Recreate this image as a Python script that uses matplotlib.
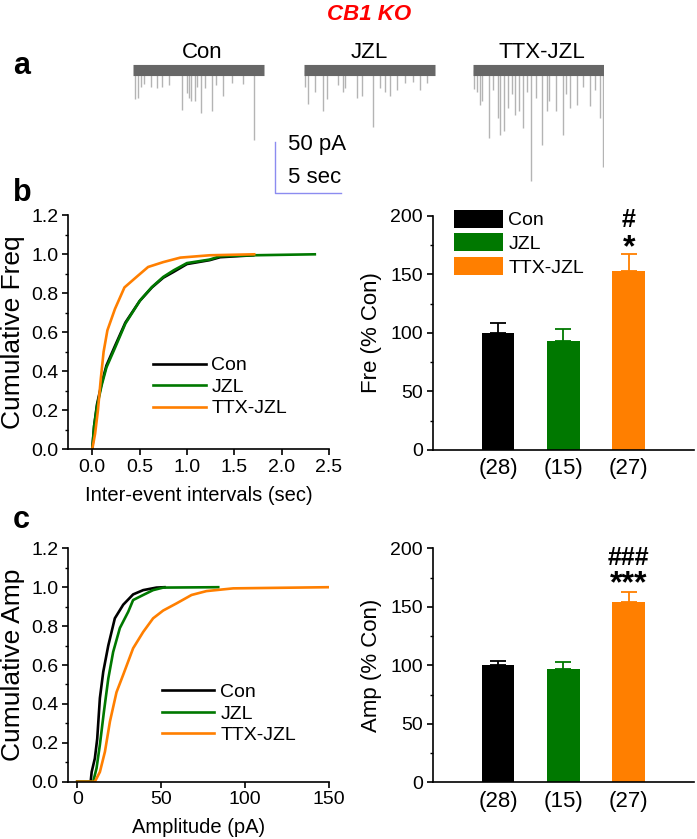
import matplotlib
matplotlib.use("Agg")
import matplotlib.pyplot as plt
from matplotlib.ticker import MultipleLocator

plt.rcParams['font.family'] = ['Liberation Sans', 'DejaVu Sans']

# ---------------- data ----------------
groups = ["Con", "JZL", "TTX-JZL"]
colors = ["#000000", "#007800", "#ff7f00"]
n_cells = ["(28)", "(15)", "(27)"]

# example traces: event times (s) and amplitudes (pA)
con_ev_t = [0.13, 0.41, 0.59, 0.84, 1.35, 1.81, 2.19, 2.75, 3.72, 4.10, 4.27, 4.45, 4.71, 4.90, 5.17, 5.50, 6.05, 6.30, 6.87, 7.50, 8.40, 9.24]
con_ev_a = [28, 27, 17, 14, 17, 18, 17, 15, 39, 23, 27, 30, 30, 17, 42, 18, 40, 15, 25, 13, 14, 69]
jzl_ev_t = [0.08, 0.33, 0.84, 1.47, 1.73, 2.61, 2.95, 3.12, 4.01, 4.39, 5.23, 5.78, 6.16, 6.54, 7.10, 7.69, 8.32, 8.83, 9.34]
jzl_ev_a = [17, 33, 22, 40, 28, 15, 22, 18, 27, 25, 56, 18, 22, 25, 20, 13, 12, 20, 13]
ttx_ev_t = [0.08, 0.30, 0.54, 0.72, 1.18, 1.50, 1.87, 2.08, 2.38, 2.64, 2.98, 3.18, 3.48, 3.82, 4.10, 4.44, 4.77, 5.28, 5.62, 5.79, 6.31, 6.82, 7.08, 7.41, 7.92, 8.36, 8.87, 9.30, 9.64, 9.90]
ttx_ev_a = [19, 22, 34, 30, 67, 20, 47, 64, 60, 37, 24, 44, 40, 57, 22, 109, 27, 74, 40, 30, 40, 64, 24, 37, 34, 17, 35, 20, 47, 95]
trace_len = 10.0

# cumulative inter-event interval distributions
iei_con_x = [0, 0.02, 0.05, 0.10, 0.15, 0.24, 0.35, 0.50, 0.63, 0.75, 0.86, 1.00, 1.24, 1.35, 1.70]
iei_con_y = [0, 0.12, 0.23, 0.34, 0.43, 0.53, 0.65, 0.76, 0.83, 0.88, 0.91, 0.95, 0.970, 0.985, 0.995]
iei_jzl_x = [0, 0.02, 0.05, 0.10, 0.15, 0.24, 0.35, 0.506, 0.63, 0.75, 0.86, 1.00, 1.24, 1.35, 1.70, 2.35]
iei_jzl_y = [0, 0.12, 0.22, 0.33, 0.42, 0.52, 0.645, 0.764, 0.832, 0.884, 0.918, 0.955, 0.973, 0.99, 0.995, 1.0]
iei_ttx_x = [0, 0.03, 0.06, 0.09, 0.12, 0.16, 0.24, 0.34, 0.47, 0.59, 0.75, 0.93, 1.24, 1.71]
iei_ttx_y = [0, 0.08, 0.20, 0.36, 0.50, 0.61, 0.72, 0.83, 0.885, 0.935, 0.96, 0.983, 0.995, 1.0]

# cumulative amplitude distributions
amp_con_x = [0, 8.0, 8.6, 10.5, 11.9, 13.5, 15.5, 18.5, 22.4, 27.4, 33.3, 39.3, 47.2, 52]
amp_con_y = [0, 0, 0.05, 0.12, 0.22, 0.43, 0.565, 0.70, 0.84, 0.91, 0.963, 0.985, 0.998, 1.0]
amp_jzl_x = [0, 9.5, 11.5, 13.5, 15.9, 18.5, 21.4, 25.4, 30.4, 33.3, 39.3, 45.2, 51.2, 84]
amp_jzl_y = [0, 0, 0.069, 0.19, 0.36, 0.53, 0.667, 0.79, 0.874, 0.934, 0.96, 0.985, 0.998, 1.0]
amp_ttx_x = [0, 10.5, 13.5, 16.5, 19.5, 23.4, 27.4, 33.3, 39.3, 45.2, 51.2, 59.2, 68.1, 77, 92.9, 150]
amp_ttx_y = [0, 0, 0.05, 0.154, 0.31, 0.46, 0.55, 0.686, 0.77, 0.84, 0.88, 0.917, 0.96, 0.98, 0.994, 1.0]

# normalized bar data (% Con)
fre_mean = [100, 93.4, 153.2]
fre_sem = [8.3, 9.8, 14.1]
amp_mean = [100, 96.8, 153.8]
amp_sem = [3.7, 6.3, 9.1]

# ---------------- figure ----------------
W, H = 697, 839
fig = plt.figure(figsize=(W / 100, H / 100), dpi=100)


def fx(px):
    return px / W


def fy(py):
    return 1 - py / H


def axes_px(x0, y0, x1, y1):
    return fig.add_axes([fx(x0), fy(y1), fx(x1) - fx(x0), (y1 - y0) / H])


TICK = 14
LW_SPINE = 1.2


def style(ax, minor_y=None):
    for s in ['top', 'right']:
        ax.spines[s].set_visible(False)
    for s in ['left', 'bottom']:
        ax.spines[s].set_linewidth(LW_SPINE)
    ax.tick_params(axis='both', which='major', direction='out', length=4.5,
                   width=LW_SPINE, labelsize=TICK, pad=2.5)
    ax.tick_params(axis='y', which='minor', direction='out', length=2.5, width=1.0)
    if minor_y is not None:
        ax.yaxis.set_minor_locator(MultipleLocator(minor_y))


# ----- panel a: traces -----
px_per_s = 13.14
px_per_pA = 1.02
ax_a = axes_px(133, 30, 604, 200)
ax_a.set_xlim(0, 471 / px_per_s)
ax_a.set_ylim(-130 / px_per_pA, 40 / px_per_pA)
ax_a.axis('off')
trace_starts = [0.0, (304 - 133) / px_per_s, (473 - 133) / px_per_s]
ev_t = [con_ev_t, jzl_ev_t, ttx_ev_t]
ev_a = [con_ev_a, jzl_ev_a, ttx_ev_a]
for start, ts, amps in zip(trace_starts, ev_t, ev_a):
    ax_a.vlines([start + t for t in ts], 0, [-a for a in amps],
                color='#b4b4b4', lw=1.0, zorder=1)
    ax_a.plot([start, start + trace_len], [0, 0], color='#676767',
              lw=8.0, solid_capstyle='butt', zorder=2)
# scale bar
sb_t0 = (275 - 133) / px_per_s
sb_y0 = -(193 - 70) / px_per_pA
ax_a.plot([sb_t0, sb_t0, sb_t0 + 5], [sb_y0 + 50, sb_y0, sb_y0],
          color='#8c8cf0', lw=1.0, clip_on=False)

fig.text(fx(369), fy(20), "CB1 KO", color='#ff0000', fontsize=16,
         fontweight='bold', fontstyle='italic', ha='center', va='baseline')
for lab, cx in zip(groups, [202, 369, 542]):
    fig.text(fx(cx), fy(58), lab, fontsize=16, ha='center', va='baseline')
fig.text(fx(288), fy(150), "50 pA", fontsize=16, ha='left', va='baseline')
fig.text(fx(288), fy(183), "5 sec", fontsize=16, ha='left', va='baseline')

for lab, (x, y) in zip(["a", "b", "c"], [(13, 74), (13, 201), (13, 528)]):
    fig.text(fx(x), fy(y), lab, fontsize=22, fontweight='bold', ha='left', va='baseline')


# ----- cumulative plots -----
def cum_plot(ax, series, xlim, xticks, xlabel, ylabel, leg_anchor):
    for (xs, ys), c, lab in zip(series, colors, groups):
        ax.plot(xs, ys, color=c, lw=1.9, label=lab, solid_joinstyle='round')
    ax.set_xlim(*xlim)
    ax.set_ylim(0, 1.2)
    ax.set_xticks(xticks)
    ax.set_yticks([0, 0.2, 0.4, 0.6, 0.8, 1.0, 1.2])
    ax.yaxis.set_major_formatter(plt.FuncFormatter(lambda v, p: f"{v:.1f}"))
    style(ax, minor_y=0.1)
    ax.set_xlabel(xlabel, fontsize=14.5)
    ax.set_ylabel(ylabel, fontsize=19)
    ax.yaxis.set_label_coords(-0.165, 0.5)
    ax.xaxis.set_label_coords(0.5, -0.155)
    ax.xaxis.label.set_va('top')
    ax.legend(loc='upper left', bbox_to_anchor=leg_anchor, frameon=False,
              fontsize=14, handlelength=2.7, handletextpad=0.3,
              labelspacing=0.2, borderpad=0, borderaxespad=0)


ax_b1 = axes_px(68, 215.3, 329, 449.3)
cum_plot(ax_b1, [(iei_con_x, iei_con_y), (iei_jzl_x, iei_jzl_y), (iei_ttx_x, iei_ttx_y)],
         (-0.256, 2.5), [0, 0.5, 1.0, 1.5, 2.0, 2.5], "Inter-event intervals (sec)",
         "Cumulative Freq", (0.326, 0.395))
ax_b1.xaxis.set_major_formatter(plt.FuncFormatter(lambda v, p: f"{v:.1f}"))

ax_c1 = axes_px(68, 548.3, 329, 781.7)
cum_plot(ax_c1, [(amp_con_x, amp_con_y), (amp_jzl_x, amp_jzl_y), (amp_ttx_x, amp_ttx_y)],
         (-5.5, 150), [0, 50, 100, 150], "Amplitude (pA)",
         "Cumulative Amp", (0.36, 0.42))


# ----- bar plots -----
def bar_plot(ax, means, sems, ylabel, legend, stars):
    pos = [1, 2, 3]
    bars = ax.bar(pos, means, width=0.5, color=colors, edgecolor='none', zorder=2)
    for p, m, s, c in zip(pos, means, sems, colors):
        ax.errorbar([p], [m], yerr=[[0], [s]], fmt='none', ecolor=c,
                    elinewidth=1.3, capsize=5.5, capthick=1.3, zorder=1)
    ax.set_xlim(0, 4)
    ax.set_ylim(0, 200)
    ax.set_yticks([0, 50, 100, 150, 200])
    ax.set_xticks(pos)
    ax.set_xticklabels(n_cells, fontsize=16)
    style(ax, minor_y=25)
    ax.tick_params(axis='x', length=0, pad=6, labelsize=16)
    ax.set_ylabel(ylabel, fontsize=16)
    ax.yaxis.set_label_coords(-0.194, 0.5)
    if legend:
        ax.legend(bars, groups, loc='upper left', bbox_to_anchor=(0.0815, 1.025),
                  frameon=False, fontsize=14, handlelength=2.5, handleheight=1.05,
                  handletextpad=0.3, labelspacing=0.2, borderpad=0, borderaxespad=0)
    (hash_txt, hash_y), (star_txt, star_y) = stars
    ax.text(3, hash_y, hash_txt, ha='center', va='center', fontsize=18, fontweight='bold')
    ax.text(3, star_y, star_txt, ha='center', va='center', fontsize=23, fontweight='bold')


ax_b2 = axes_px(432.7, 215.7, 694, 450)
bar_plot(ax_b2, fre_mean, fre_sem, "Fre (% Con)", True, (("#", 196), ("*", 172)))

ax_c2 = axes_px(432.7, 548.3, 694, 782.3)
bar_plot(ax_c2, amp_mean, amp_sem, "Amp (% Con)", False, (("###", 192), ("***", 169)))

fig.savefig("out.png", dpi=100)
